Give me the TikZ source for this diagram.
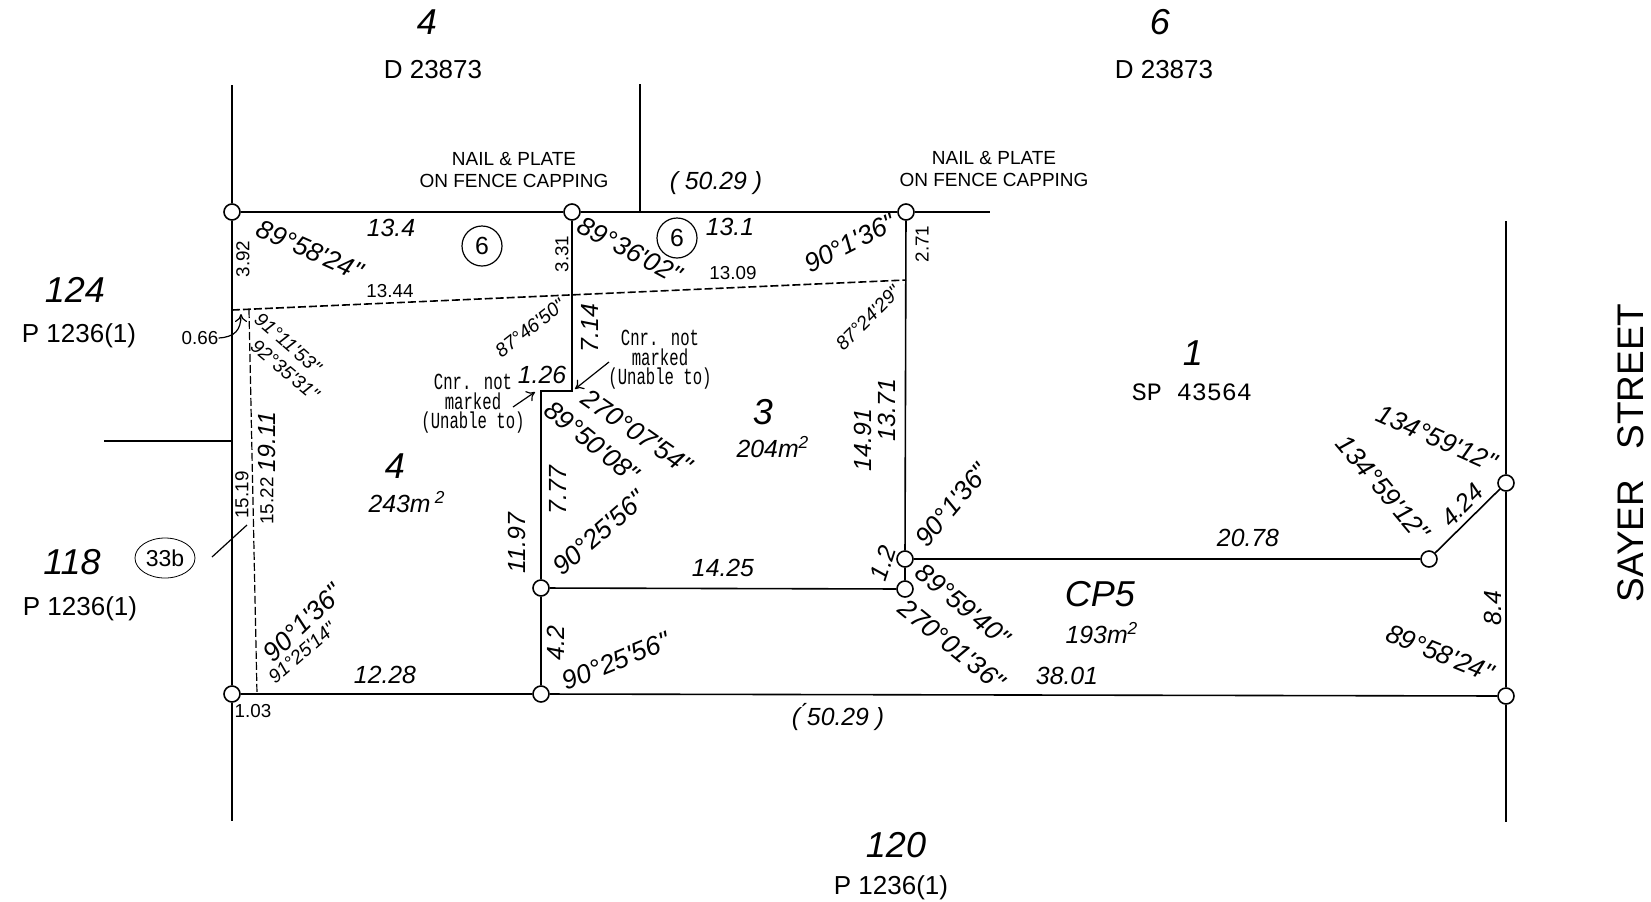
\documentclass[tikz,border=0pt]{standalone}
\usepackage{fontspec}
\usetikzlibrary{shapes.geometric,arrows.meta}
\setmainfont[Ligatures=TeXOff]{Liberation Sans}
\setmonofont{Liberation Mono}
\newfontfamily\cnrfont[FakeStretch=0.68]{Liberation Mono}

\tikzset{
	peg/.style={circle,draw,thick,fill=white,minimum size=8pt,inner sep=0pt},
	lot/.style={inner sep=0pt,font=\fontsize{18}{20}\selectfont\itshape},
	plan/.style={inner sep=0pt,font=\fontsize{13}{15}\selectfont},
	dim/.style={inner sep=0pt,font=\fontsize{12.4}{14}\selectfont\itshape},
	smalldim/.style={inner sep=0pt,font=\fontsize{9.4}{11}\selectfont},
	ang/.style={inner sep=0pt,font=\fontsize{13.2}{15}\selectfont\itshape},
	smallang/.style={inner sep=0pt,font=\fontsize{9.6}{11}\selectfont\itshape},
	note/.style={inner sep=0pt,align=center,font=\fontsize{9.5}{11}\selectfont},
	cnr/.style={inner sep=0pt,align=center,font=\fontsize{11.5}{9.7}\selectfont\cnrfont},
	occ/.style={circle,draw,semithick,inner sep=0pt,minimum size=20pt,font=\fontsize{12.4}{14}\selectfont},
	pointer/.style={-{To[length=4pt,width=6pt]},semithick}
}

\begin{document}
\begin{tikzpicture}[x=0.5pt,y=-0.5pt]
	\useasboundingbox (0,0) rectangle (1651,901);

	% survey pegs
	\node[peg] (pegTL) at (232,212) {};
	\node[peg] (pegTM) at (572,212) {};
	\node[peg] (pegTR) at (906,212) {};
	\node[peg] (pegBL) at (232,694) {};
	\node[peg] (pegBM) at (541,694) {};
	\node[peg] (pegBR) at (1506,696) {};
	\node[peg] (pegM) at (541,588) {};
	\node[peg] (pegA) at (905,559) {};
	\node[peg] (pegB) at (905,589) {};
	\node[peg] (pegC) at (1429,559) {};
	\node[peg] (pegD) at (1506,483) {};

	% free ends and bends
	\coordinate (fenceL) at (232,85);
	\coordinate (fenceLb) at (232,821);
	\coordinate (fenceM) at (640,84);
	\coordinate (fenceMb) at (640,212);
	\coordinate (fenceR) at (990,212);
	\coordinate (fenceS) at (1506,221);
	\coordinate (fenceSb) at (1506,822);
	\coordinate (stub) at (104,441);
	\coordinate (stubb) at (232,441);
	\coordinate (stepA) at (572,391);
	\coordinate (stepB) at (541,391);
	\coordinate (dashL) at (232,310);
	\coordinate (dashR) at (906,280);
	\coordinate (dashA) at (249,310);
	\coordinate (dashB) at (257,694);

	% boundaries
	\draw[thick] (fenceL) -- (pegTL) -- (pegBL) -- (fenceLb);
	\draw[thick] (pegTL) -- (pegTM) -- (pegTR) -- (fenceR);
	\draw[thick] (fenceM) -- (fenceMb);
	\draw[thick] (pegTM) -- (stepA) -- (stepB) -- (pegM) -- (pegBM);
	\draw[thick] (pegBL) -- (pegBM) -- (pegBR);
	\draw[thick] (pegTR) -- (pegA) -- (pegB);
	\draw[thick] (pegM) -- (pegB);
	\draw[thick] (pegA) -- (pegC) -- (pegD);
	\draw[thick] (fenceS) -- (pegD) -- (pegBR) -- (fenceSb);
	\draw[thick] (stub) -- (stubb);
	\draw[thick,dash pattern=on 4pt off 1.5pt] (dashL) -- (dashR);
	\draw[semithick,dash pattern=on 4pt off 1.5pt] (dashA) -- (dashB);

	% neighbours
	\node[lot] (lotNa) at (427,22) {4};
	\node[plan] (planNa) at (433,70) {D 23873};
	\node[lot] (lotNb) at (1160,22) {6};
	\node[plan] (planNb) at (1164,70) {D 23873};
	\node[lot] (lotWa) at (75,290) {124};
	\node[plan] (planWa) at (79,336) {P 1236(1)};
	\node[lot] (lotWb) at (72,562) {118};
	\node[plan] (planWb) at (80,609) {P 1236(1)};
	\node[lot] (lotS) at (896,845) {120};
	\node[plan] (planS) at (891,888) {P 1236(1)};
	\node[inner sep=0pt,rotate=90,font=\fontsize{18.5}{20}\selectfont] (street) at (1631,453) {SAYER\hspace{15pt}STREET};

	% lots
	\node[lot] (lotOne) at (1193,353) {1};
	\node[inner sep=0pt,font=\fontsize{12.5}{14}\selectfont\ttfamily] (planOne) at (1192,392) {SP 43564};
	\node[lot] (lotThree) at (763,412) {3};
	\node[dim] (areaThree) at (773,447) {204m\textsuperscript{2}};
	\node[lot] (lotFour) at (395,466) {4};
	\node[dim] (areaFour) at (407,502) {243m\,\textsuperscript{2}};
	\node[lot] (lotCP) at (1100,594) {CP5};
	\node[dim] (areaCP) at (1102,633) {193m\textsuperscript{2}};

	% notes
	\node[note] (nailA) at (514,170) {NAIL \& PLATE\\ON FENCE CAPPING};
	\node[note] (nailB) at (994,169) {NAIL \& PLATE\\ON FENCE CAPPING};
	\node[occ] (occA) at (482,246) {6};
	\node[occ] (occB) at (677,238) {6};
	\node[ellipse,draw,inner sep=0pt,minimum width=30pt,minimum height=20pt,font=\fontsize{11.5}{13}\selectfont] (tag) at (165,558) {33b};
	\coordinate (tagStart) at (212,557);
	\coordinate (tagEnd) at (247,525);
	\draw[semithick] (tagStart) -- (tagEnd);
	\node[cnr] (cnrL) at (473,404) {Cnr. not~\\marked\\(Unable to)};
	\node[cnr] (cnrR) at (660,360) {Cnr. not~\\marked\\(Unable to)};
	\coordinate (cnrLa) at (513,407);
	\coordinate (cnrLb) at (535,392);
	\coordinate (cnrRa) at (609,362);
	\coordinate (cnrRb) at (575,389);
	\draw[pointer] (cnrLa) -- (cnrLb);
	\draw[pointer] (cnrRa) -- (cnrRb);
	\node[smalldim] (offA) at (200,338) {0.66};
	\coordinate (offTip) at (241,314);
	\draw[pointer] (offA.east) .. controls (235,337) and (241,330) .. (offTip);

	% distances
	\node[dim] (dA) at (391,228) {13.4};
	\node[dim] (dB) at (730,227) {13.1};
	\node[dim] (dC) at (716,183) {(~50.29~)};
	\node[dim] (dD) at (838,717) {(\'{}50.29~)};
	\node[dim] (dE) at (542,375) {1.26};
	\node[dim,rotate=90] (dF) at (590,328) {7.14};
	\node[dim,rotate=90] (dG) at (863,440) {14.91};
	\node[dim,rotate=90] (dH) at (887,410) {13.71};
	\node[dim,rotate=90] (dI) at (267,442) {19.11};
	\node[dim,rotate=90] (dJ) at (517,543) {11.97};
	\node[dim,rotate=90] (dK) at (558,490) {7.77};
	\node[dim] (dL) at (723,568) {14.25};
	\node[dim,rotate=90] (dM) at (556,643) {4.2};
	\node[dim] (dN) at (385,675) {12.28};
	\node[dim,rotate=72] (dO) at (883,563) {1.2};
	\node[dim] (dP) at (1067,676) {38.01};
	\node[dim] (dQ) at (1248,538) {20.78};
	\node[dim,rotate=45] (dR) at (1462,505) {4.24};
	\node[dim,rotate=90] (dS) at (1493,608) {8.4};

	% small distances
	\node[smalldim,rotate=90] (tA) at (243,259) {3.92};
	\node[smalldim,rotate=90] (tB) at (562,254) {3.31};
	\node[smalldim,rotate=90] (tC) at (922,244) {2.71};
	\node[smalldim] (tD) at (390,291) {13.44};
	\node[smalldim] (tE) at (733,273) {13.09};
	\node[smalldim,rotate=90] (tF) at (242,495) {15.19};
	\node[smalldim,rotate=90] (tG) at (267,501) {15.22};
	\node[smalldim] (tH) at (253,711) {1.03};

	% angles
	\node[ang,rotate=-24] (aA) at (310,250) {89°58'24"};
	\node[ang,rotate=-28] (aB) at (630,250) {89°36'02"};
	\node[ang,rotate=27] (aC) at (850,243) {90°1'36"};
	\node[ang,rotate=-35] (aD) at (637,432) {270°07'54"};
	\node[ang,rotate=-39] (aE) at (592,442) {89°50'08"};
	\node[ang,rotate=41] (aF) at (599,533) {90°25'56"};
	\node[ang,rotate=22] (aG) at (616,661) {90°25'56"};
	\node[ang,rotate=44] (aH) at (303,623) {90°1'36"};
	\node[ang,rotate=50] (aI) at (952,505) {90°1'36"};
	\node[ang,rotate=-40] (aJ) at (963,605) {89°59'40"};
	\node[ang,rotate=-39] (aK) at (952,645) {270°01'36"};
	\node[ang,rotate=-24] (aL) at (1437,438) {134°59'12"};
	\node[ang,rotate=-50] (aM) at (1383,488) {134°59'12"};
	\node[ang,rotate=-22] (aN) at (1440,653) {89°58'24"};

	% small angles
	\node[smallang,rotate=38] (sA) at (530,328) {87°46'50"};
	\node[smallang,rotate=-41] (sB) at (288,343) {91°11'53"};
	\node[smallang,rotate=-40] (sC) at (285,370) {92°35'31"};
	\node[smallang,rotate=45] (sD) at (868,318) {87°24'29"};
	\node[smallang,rotate=41] (sE) at (302,653) {91°25'14"};
\end{tikzpicture}
\end{document}
